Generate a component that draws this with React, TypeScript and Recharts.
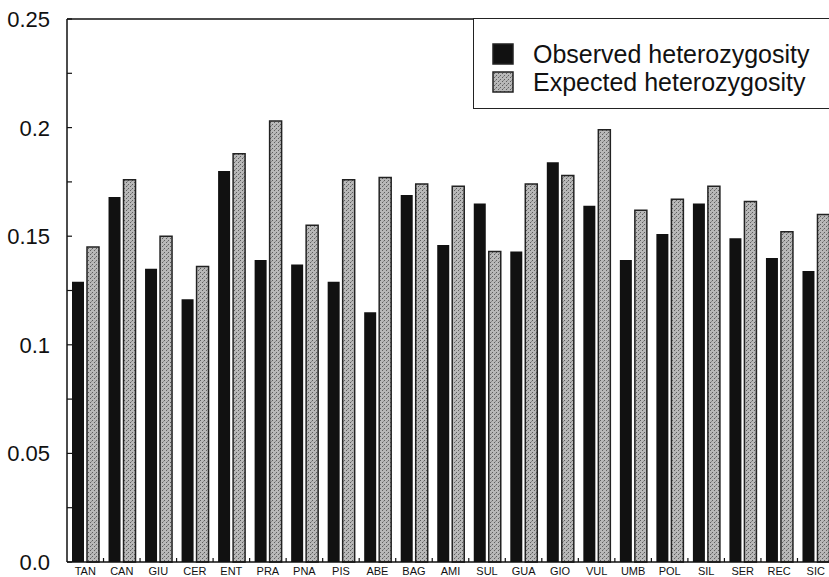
import { BarChart, Bar, XAxis, YAxis, Legend, ReferenceLine } from "recharts";

const populations = [
  "TAN", "CAN", "GIU", "CER", "ENT", "PRA", "PNA", "PIS", "ABE", "BAG", "AMI",
  "SUL", "GUA", "GIO", "VUL", "UMB", "POL", "SIL", "SER", "REC", "SIC",
];
const observed = [
  0.129, 0.168, 0.135, 0.121, 0.180, 0.139, 0.137, 0.129, 0.115, 0.169, 0.146,
  0.165, 0.143, 0.184, 0.164, 0.139, 0.151, 0.165, 0.149, 0.140, 0.134,
];
const expected = [
  0.145, 0.176, 0.150, 0.136, 0.188, 0.203, 0.155, 0.176, 0.177, 0.174, 0.173,
  0.143, 0.174, 0.178, 0.199, 0.162, 0.167, 0.173, 0.166, 0.152, 0.160,
];
const yTicks = [0, 0.025, 0.05, 0.075, 0.1, 0.125, 0.15, 0.175, 0.2, 0.225, 0.25];
const yLabels: Record<string, string> = {
  "0": "0.0", "0.05": "0.05", "0.1": "0.1", "0.15": "0.15", "0.2": "0.2", "0.25": "0.25",
};

const data = populations.map((name, i) => ({ name, obs: observed[i], exp: expected[i] }));

const FONT = "'Liberation Sans', Arial, Helvetica, sans-serif";
const AXIS_X = 67;
const W = 834;
const H = 577;

const YTick = ({ y, payload }: any) => {
  const label = yLabels[String(payload.value)];
  return (
    <g>
      <line x1={AXIS_X} x2={AXIS_X + 5} y1={y} y2={y} stroke="#111" strokeWidth={1.2} />
      {label && (
        <text x={50} y={y} dy={8} textAnchor="end" fontFamily={FONT} fontSize={22} fill="#111">
          {label}
        </text>
      )}
    </g>
  );
};

const XTick = ({ x, payload }: any) => {
  const half = (W - AXIS_X) / populations.length / 2;
  const axisY = H - 15;
  return (
    <g>
      <line x1={x + half} x2={x + half} y1={axisY - 4} y2={axisY} stroke="#111" strokeWidth={1.2} />
      <text x={x} y={H - 2} textAnchor="middle" fontFamily={FONT} fontSize={11} fill="#111">
        {payload.value}
      </text>
    </g>
  );
};

const LegendBox = () => (
  <div
    style={{
      width: 400,
      height: 91,
      border: "1.5px solid #222",
      borderRight: "none",
      background: "#fff",
      fontFamily: FONT,
      fontSize: 25,
      color: "#111",
      boxSizing: "border-box",
      paddingTop: 21,
      paddingLeft: 18,
    }}
  >
    {[
      { label: "Observed heterozygosity", dark: true },
      { label: "Expected heterozygosity", dark: false },
    ].map((it) => (
      <div key={it.label} style={{ display: "flex", alignItems: "center", height: 28 }}>
        <svg width={22} height={22} style={{ marginRight: 19 }}>
          <defs>
            <pattern id="stippleL" width="4" height="4" patternUnits="userSpaceOnUse">
              <rect width="4" height="4" fill="#b8b8b8" />
              <rect x="0" y="0" width="1" height="1" fill="#5e5e5e" />
              <rect x="2" y="2" width="1" height="1" fill="#5e5e5e" />
              <rect x="3" y="1" width="1" height="1" fill="#8c8c8c" />
            </pattern>
          </defs>
          <rect
            x={1}
            y={1}
            width={20}
            height={20}
            fill={it.dark ? "#111" : "url(#stippleL)"}
            stroke="#222"
            strokeWidth={1.5}
          />
        </svg>
        <span>{it.label}</span>
      </div>
    ))}
  </div>
);

export default function App() {
  return (
    <div
      style={{
        position: "fixed",
        left: 0,
        top: 0,
        width: 829,
        height: 577,
        overflow: "hidden",
        background: "#fff",
      }}
    >
      <BarChart
        width={W}
        height={H}
        data={data}
        margin={{ top: 19, right: 0, bottom: 0, left: 0 }}
        barSize={12}
        barGap={3}
      >
        <defs>
          <pattern id="stipple" width="4" height="4" patternUnits="userSpaceOnUse">
            <rect width="4" height="4" fill="#b8b8b8" />
            <rect x="0" y="0" width="1" height="1" fill="#5e5e5e" />
            <rect x="2" y="2" width="1" height="1" fill="#5e5e5e" />
            <rect x="3" y="1" width="1" height="1" fill="#8c8c8c" />
          </pattern>
        </defs>
        <XAxis
          dataKey="name"
          height={15}
          interval={0}
          tickLine={false}
          axisLine={{ stroke: "#111", strokeWidth: 1.5 }}
          tick={<XTick />}
        />
        <YAxis
          width={AXIS_X}
          domain={[0, 0.25]}
          ticks={yTicks}
          interval={0}
          tickLine={false}
          axisLine={{ stroke: "#111", strokeWidth: 1.5 }}
          tick={<YTick />}
        />
        <ReferenceLine y={0.25} stroke="#111" strokeWidth={1.5} />
        <Legend
          layout="vertical"
          align="center"
          verticalAlign="middle"
          content={<LegendBox />}
          wrapperStyle={{ position: "absolute", left: 473, top: 18, width: 400 }}
        />
        <Bar dataKey="obs" name="Observed heterozygosity" fill="#111" isAnimationActive={false} />
        <Bar
          dataKey="exp"
          name="Expected heterozygosity"
          fill="url(#stipple)"
          stroke="#222"
          strokeWidth={1.5}
          isAnimationActive={false}
        />
      </BarChart>
    </div>
  );
}
